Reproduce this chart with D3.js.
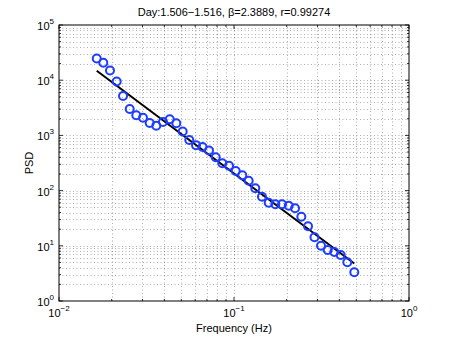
<!DOCTYPE html>
<html>
<head>
<meta charset="utf-8">
<script src="https://cdn.jsdelivr.net/npm/d3@7"></script>
<style>
  body { margin: 0; background: #fff; }
  text { font-family: "Liberation Sans", Arial, sans-serif; }
</style>
</head>
<body>
<div id="vis"></div>
<script>
// PSD values
const freq = [0.01643, 0.01791, 0.01956, 0.02136, 0.02322, 0.02535, 0.02765, 0.0302, 0.03298, 0.03597,
  0.03929, 0.04292, 0.0468, 0.05091, 0.05553, 0.06066, 0.06607, 0.07197, 0.0786, 0.08574,
  0.09364, 0.1023, 0.1115, 0.1213, 0.1323, 0.1445, 0.1579, 0.1722, 0.1881, 0.2054,
  0.2233, 0.2425, 0.2648, 0.2884, 0.3142, 0.3431, 0.3742, 0.4071, 0.4441, 0.4869];
const psd = [24700, 20750, 15000, 9470, 5170, 3010, 2320, 2093, 1678, 1493,
  1749, 1965, 1657, 1177, 826, 662, 616, 533, 401, 312,
  282, 226, 189, 151, 110, 77.5, 60.4, 56.5, 56.5, 53.3,
  47.8, 33.7, 22.6, 14.3, 10.0, 8.4, 7.72, 6.81, 5.02, 3.31];
// fitted power-law line endpoints
const fitFreq = [0.01643, 0.4869];
const fitPsd = [14860, 4.79];

const xDecades = [-2, -1, 0];
const yDecades = [0, 1, 2, 3, 4, 5];
const titleText = "Day:1.506\u22121.516, \u03b2=2.3889, r=0.99274";

const width = 452, height = 340;
const margin = { top: 25, right: 43, bottom: 39, left: 59 };
const x0 = margin.left, x1 = width - margin.right;
const y0 = height - margin.bottom, y1 = margin.top;

const svg = d3.select("#vis").append("svg")
  .attr("width", width).attr("height", height);

const xScale = d3.scaleLog().domain([0.01, 1]).range([x0, x1]);
const yScale = d3.scaleLog().domain([1, 1e5]).range([y0, y1]);

// major + minor positions
const xMajor = xDecades.map(e => Math.pow(10, e));
const yMajor = yDecades.map(e => Math.pow(10, e));
const minorOf = majors => {
  const out = [];
  majors.slice(0, -1).forEach(m => { for (let k = 2; k <= 9; k++) out.push(m * k); });
  return out;
};
const xMinor = minorOf(xMajor);
const yMinor = minorOf(yMajor);

// Grid
const grid = svg.append("g")
  .attr("stroke", "#000")
  .attr("stroke-opacity", 0.45)
  .attr("stroke-width", 0.7)
  .attr("stroke-dasharray", "1,2.5");

grid.selectAll(".gx").data(xMajor.slice(1, -1).concat(xMinor)).enter().append("line")
  .attr("x1", d => Math.round(xScale(d)) + 0.5).attr("x2", d => Math.round(xScale(d)) + 0.5)
  .attr("y1", y0).attr("y2", y1);
grid.selectAll(".gy").data(yMajor.slice(1, -1).concat(yMinor)).enter().append("line")
  .attr("y1", d => Math.round(yScale(d)) + 0.5).attr("y2", d => Math.round(yScale(d)) + 0.5)
  .attr("x1", x0).attr("x2", x1);

// Ticks (inside, all four sides)
const ticks = svg.append("g").attr("stroke", "#000").attr("stroke-width", 0.8);
[[xMajor, 4], [xMinor, 2]].forEach(([vals, len]) => {
  vals.forEach(v => {
    const px = xScale(v);
    ticks.append("line").attr("x1", px).attr("x2", px).attr("y1", y0).attr("y2", y0 - len);
    ticks.append("line").attr("x1", px).attr("x2", px).attr("y1", y1).attr("y2", y1 + len);
  });
});
[[yMajor, 4], [yMinor, 2]].forEach(([vals, len]) => {
  vals.forEach(v => {
    const py = yScale(v);
    ticks.append("line").attr("y1", py).attr("y2", py).attr("x1", x0).attr("x2", x0 + len);
    ticks.append("line").attr("y1", py).attr("y2", py).attr("x1", x1).attr("x2", x1 - len);
  });
});

// Box
svg.append("rect")
  .attr("x", x0).attr("y", y1)
  .attr("width", x1 - x0).attr("height", y0 - y1)
  .attr("fill", "none").attr("stroke", "#000").attr("stroke-width", 1);

// Tick labels
xDecades.forEach(e => {
  const t = svg.append("text")
    .attr("x", xScale(Math.pow(10, e))).attr("y", y0 + 16)
    .attr("text-anchor", "middle").attr("font-size", "11px").attr("fill", "#000");
  t.append("tspan").text("10");
  t.append("tspan").attr("dy", -6).attr("font-size", "8px").text(e < 0 ? "\u2212" + (-e) : e);
});
yDecades.forEach(e => {
  const t = svg.append("text")
    .attr("x", x0 - 5).attr("y", yScale(Math.pow(10, e)) + 5)
    .attr("text-anchor", "end").attr("font-size", "11px").attr("fill", "#000");
  t.append("tspan").text("10");
  t.append("tspan").attr("dy", -6).attr("font-size", "8px").text(e);
});

// Fit line
svg.append("line")
  .attr("x1", xScale(fitFreq[0])).attr("y1", yScale(fitPsd[0]))
  .attr("x2", xScale(fitFreq[1])).attr("y2", yScale(fitPsd[1]))
  .attr("stroke", "#000").attr("stroke-width", 2);

// Data markers
svg.selectAll(".pt").data(freq).enter().append("circle")
  .attr("cx", d => xScale(d))
  .attr("cy", (d, i) => yScale(psd[i]))
  .attr("r", 4)
  .attr("fill", "none")
  .attr("stroke", "#1f3dff")
  .attr("stroke-width", 2);

// Title and axis labels
svg.append("text")
  .attr("x", (x0 + x1) / 2).attr("y", 16)
  .attr("text-anchor", "middle").attr("font-size", "11px").attr("fill", "#000")
  .text(titleText);

svg.append("text")
  .attr("x", (x0 + x1) / 2).attr("y", 332)
  .attr("text-anchor", "middle").attr("font-size", "11px").attr("fill", "#000")
  .text("Frequency (Hz)");

svg.append("text")
  .attr("transform", `translate(33,${(y0 + y1) / 2}) rotate(-90)`)
  .attr("text-anchor", "middle").attr("font-size", "11px").attr("fill", "#000")
  .text("PSD");
</script>
</body>
</html>
